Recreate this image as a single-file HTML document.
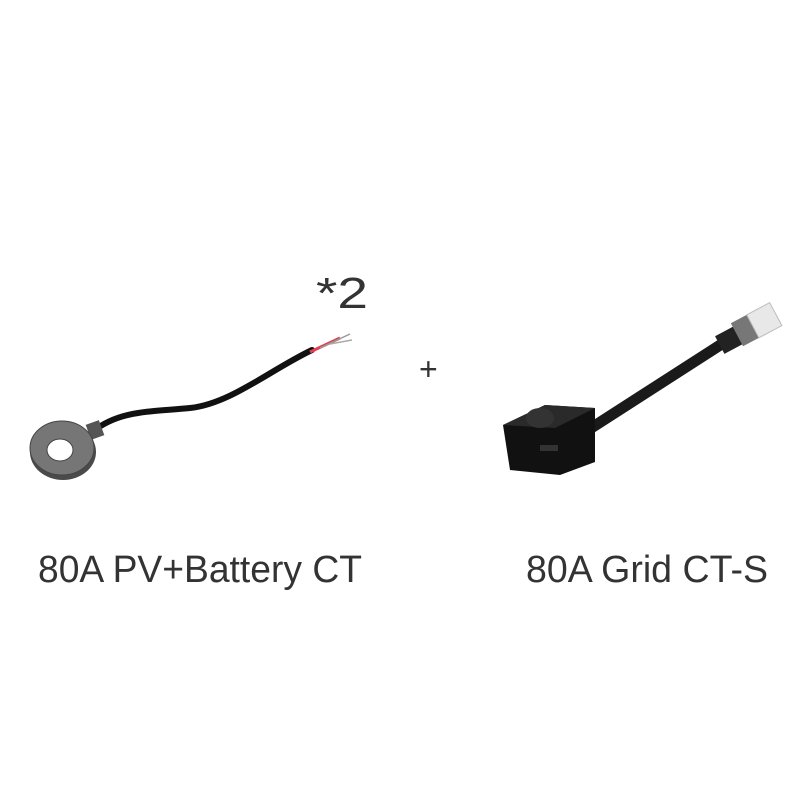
<!DOCTYPE html>
<html><head><style>html,body{margin:0;padding:0;background:#fff;}</style></head>
<body>
<svg width="800" height="800" viewBox="0 0 800 800" xmlns="http://www.w3.org/2000/svg">
<rect width="800" height="800" fill="#fff"/>
<!-- ring CT -->
<path d="M92,432 C120,410 150,412 190,408 C230,404 270,370 312,350" stroke="#111" stroke-width="6" fill="none" stroke-linecap="round"/>
<path d="M310,352 L340,338" stroke="#e04050" stroke-width="3"/>
<path d="M320,348 L350,334" stroke="#999" stroke-width="1.5"/>
<path d="M330,344 L352,340" stroke="#aaa" stroke-width="1.5"/>
<rect x="88" y="422" width="14" height="16" fill="#555" transform="rotate(-20 95 430)"/>
<ellipse cx="63" cy="452" rx="33" ry="28" fill="#4a4a4a"/>
<ellipse cx="62" cy="448" rx="32" ry="27" fill="#767676" stroke="#444" stroke-width="1"/>
<ellipse cx="60" cy="450" rx="13" ry="11" fill="#fff" stroke="#444" stroke-width="1"/>
<text x="316" y="308" font-family="Liberation Sans, sans-serif" font-size="44" fill="#333" textLength="52" lengthAdjust="spacingAndGlyphs">*2</text>
<text x="419" y="380" font-family="Liberation Sans, sans-serif" font-size="32" fill="#333">+</text>
<!-- grid CT -->
<path d="M585,432 L728,340" stroke="#1a1a1a" stroke-width="11" stroke-linecap="round"/>
<g transform="rotate(-28 748 330)">
<rect x="716" y="320" width="22" height="20" fill="#222"/>
<rect x="736" y="316" width="20" height="26" fill="#777"/>
<rect x="754" y="316" width="26" height="26" fill="#e8e8e8" stroke="#bbb"/>
</g>
<polygon points="503,425 545,405 595,408 595,462 560,475 510,470" fill="#111"/>
<polygon points="503,425 545,405 595,408 555,428" fill="#2a2a2a"/>
<ellipse cx="540" cy="418" rx="14" ry="10" fill="#333"/>
<rect x="540" y="445" width="18" height="6" fill="#333"/>
<!-- labels -->
<text x="38" y="582" font-family="Liberation Sans, sans-serif" font-size="38" fill="#333" textLength="324" lengthAdjust="spacingAndGlyphs">80A PV+Battery CT</text>
<text x="526" y="582" font-family="Liberation Sans, sans-serif" font-size="38" fill="#333" textLength="242" lengthAdjust="spacingAndGlyphs">80A Grid CT-S</text>
</svg>
</body></html>
